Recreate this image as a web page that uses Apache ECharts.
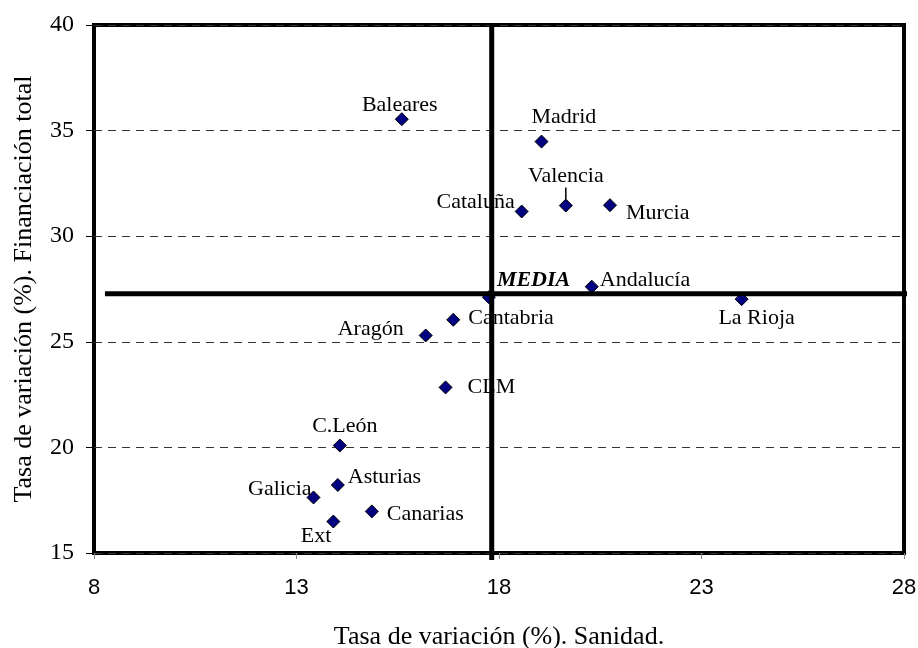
<!DOCTYPE html>
<html>
<head>
<meta charset="utf-8">
<script src="https://cdn.jsdelivr.net/npm/echarts@6/dist/echarts.min.js"></script>
<style>html,body{margin:0;padding:0;background:#fff}#c{width:918px;height:648px}</style>
</head>
<body>
<div id="c"></div>
<script>
// ---- data ----
const names = ['Baleares','Madrid','Cataluña','Valencia','Murcia','MEDIA','Andalucía','La Rioja','Cantabria','Aragón','CLM','C.León','Asturias','Galicia','Canarias','Ext'];
const sanidad = [15.60,19.05,18.56,19.65,20.74,17.75,20.29,23.99,16.87,16.19,16.68,14.07,14.02,13.42,14.86,13.91];
const financiacion = [35.54,34.48,31.17,31.45,31.47,27.11,27.61,27.02,26.04,25.30,22.84,20.09,18.22,17.63,16.97,16.49];
const mediaSanidad = 17.82;
const mediaFinanciacion = 27.28;
const hLineXRange = [8.27, 28.22];
const vLineYRange = [40.09, 14.67];
const xTicks = [8, 13, 18, 23, 28];

// ---- label placement (style, px offsets from marker centre) ----
const labelPlace = {
  'Baleares': [-2, -14, 'center'],
  'Madrid': [-10, -24, 'left'],
  'Cataluña': [-7, -9, 'right'],
  'Valencia': [0, -29, 'center'],
  'Murcia': [16, 8, 'left'],
  'MEDIA': [8, -17, 'left'],
  'Andalucía': [8, -6, 'left'],
  'La Rioja': [15, 19, 'center'],
  'Cantabria': [15, -2, 'left'],
  'Aragón': [-22, -6, 'right'],
  'CLM': [22, 0, 'left'],
  'C.León': [5, -19, 'center'],
  'Asturias': [10, -8, 'left'],
  'Galicia': [-2, -8, 'right'],
  'Canarias': [15, 3, 'left'],
  'Ext': [-2, 15, 'right']
};

const serif = "'Liberation Serif','Times New Roman',serif";
const sans = "'Liberation Sans',Arial,sans-serif";

const points = names.map((n, i) => {
  const item = { name: n, value: [sanidad[i], financiacion[i]] };
  if (n === 'MEDIA') item.label = { fontWeight: 'bold', fontStyle: 'italic' };
  if (n === 'Valencia') item.labelLine = { show: true, lineStyle: { color: '#000', width: 1.5, opacity: 1 } };
  return item;
});

const chart = echarts.init(document.getElementById('c'), null, { renderer: 'canvas' });
chart.setOption({
  animation: false,
  backgroundColor: '#fff',
  grid: { left: 94, right: 14, top: 25, bottom: 95, containLabel: false, outerBoundsMode: 'none',
          show: true, borderColor: '#000', borderWidth: 4, backgroundColor: 'transparent' },
  xAxis: {
    type: 'value', min: 8, max: 28,
    name: 'Tasa de variación (%). Sanidad.', nameLocation: 'middle', nameGap: 71,
    nameTextStyle: { fontFamily: serif, fontSize: 26, color: '#000' },
    axisLine: { show: false },
    axisTick: { show: true, length: 6, lineStyle: { color: '#888', width: 1 }, customValues: xTicks },
    axisLabel: { fontFamily: sans, fontSize: 22, color: '#000', margin: 24, customValues: xTicks },
    splitLine: { show: false }
  },
  yAxis: {
    type: 'value', min: 15, max: 40, interval: 5,
    name: 'Tasa de variación (%). Financiación total', nameLocation: 'middle', nameGap: 57,
    nameTextStyle: { fontFamily: serif, fontSize: 26, color: '#000' },
    axisLine: { show: false },
    axisTick: { show: true, length: 8, lineStyle: { color: '#000', width: 1 } },
    axisLabel: { fontFamily: serif, fontSize: 24, color: '#000', margin: 20 },
    splitLine: { show: true, lineStyle: { color: '#333', width: 1, type: [8, 6] } }
  },
  series: [
    {
      type: 'scatter', z: 2,
      symbol: 'diamond', symbolSize: 13,
      itemStyle: { color: '#000080', borderColor: '#000', borderWidth: 1, opacity: 1 },
      data: points,
      label: { show: true, position: 'inside', formatter: '{b}', fontFamily: serif, fontSize: 22, color: '#000', opacity: 1 },
      labelLine: { show: false },
      labelLayout: function (p) {
        const o = labelPlace[names[p.dataIndex]];
        const cx = p.rect.x + p.rect.width / 2;
        const cy = p.rect.y + p.rect.height / 2;
        return { x: cx + o[0], y: cy + o[1], align: o[2], verticalAlign: 'middle' };
      }
    },
    {
      type: 'line', z: 5, silent: true, clip: false, symbol: 'none',
      lineStyle: { color: '#000', width: 5 },
      data: [[hLineXRange[0], mediaFinanciacion], [hLineXRange[1], mediaFinanciacion]]
    },
    {
      type: 'line', z: 5, silent: true, clip: false, symbol: 'none',
      lineStyle: { color: '#000', width: 5 },
      data: [[mediaSanidad, vLineYRange[0]], [mediaSanidad, vLineYRange[1]]]
    }
  ]
});
</script>
</body>
</html>
